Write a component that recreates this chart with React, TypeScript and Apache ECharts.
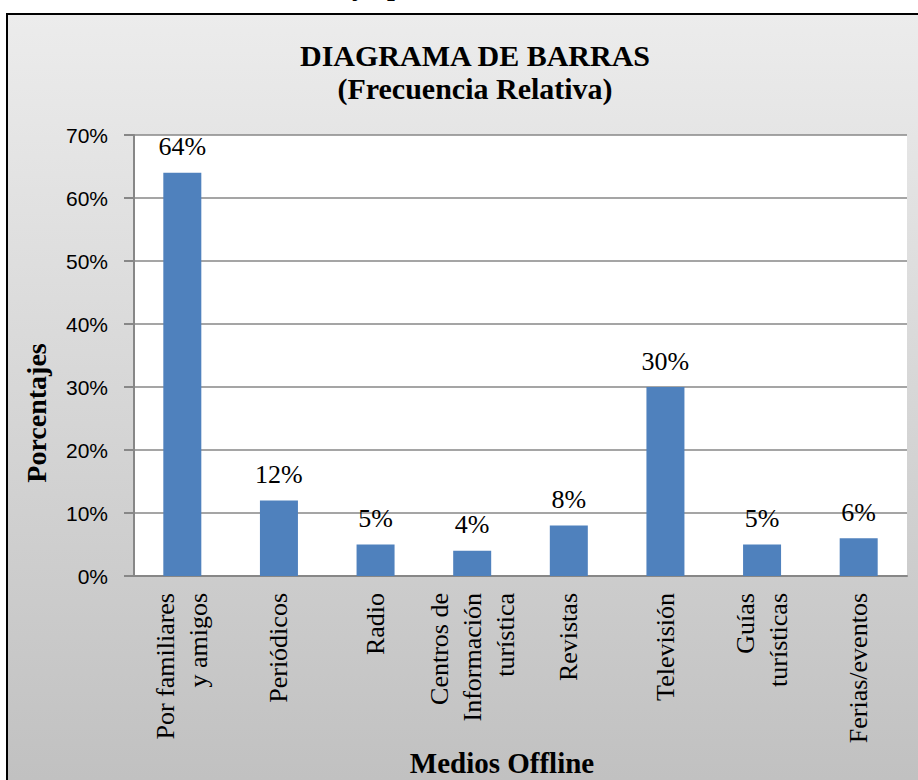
import React, { useEffect, useRef } from "react";
import * as echarts from "echarts";

const categories = [
  "Por familiares\ny amigos",
  "Periódicos",
  "Radio",
  "Centros de\nInformación\nturística",
  "Revistas",
  "Televisión",
  "Guías\nturísticas",
  "Ferias/eventos",
];
const values = [0.64, 0.12, 0.05, 0.04, 0.08, 0.3, 0.05, 0.06];
const titleText = "DIAGRAMA DE BARRAS\n(Frecuencia Relativa)";
const xAxisName = "Medios Offline";
const yAxisName = "Porcentajes";

export default function App() {
  const ref = useRef<HTMLDivElement>(null);
  useEffect(() => {
    document.body.style.margin = "0";
    const chart = echarts.init(ref.current!, null, { renderer: "svg" });
    const serif = "'Liberation Serif', 'Times New Roman', serif";
    chart.setOption({
      animation: false,
      graphic: [
        {
          type: "rect",
          z: -10,
          shape: { x: 7, y: 14, width: 1000, height: 900 },
          style: {
            fill: new echarts.graphic.LinearGradient(0, 0, 0, 1, [
              { offset: 0, color: "#ECECEC" },
              { offset: 0.85, color: "#C1C1C1" },
              { offset: 1, color: "#BDBDBD" },
            ]),
            stroke: "#000",
            lineWidth: 2,
          },
        },
        {
          type: "text",
          x: 352,
          y: -1,
          style: {
            text: "y ap",
            font: "bold 28px " + serif,
            fill: "#000",
            verticalAlign: "bottom",
          },
        },
        {
          type: "text",
          x: 502,
          y: 777,
          style: {
            text: xAxisName,
            font: "bold 29px " + serif,
            fill: "#000",
            align: "center",
            verticalAlign: "bottom",
          },
        },
        {
          type: "text",
          x: 36,
          y: 413,
          rotation: Math.PI / 2,
          style: {
            text: yAxisName,
            font: "bold 28px " + serif,
            fill: "#000",
            align: "center",
            verticalAlign: "middle",
          },
        },
      ],
      title: {
        text: titleText,
        left: 470,
        top: 34,
        textAlign: "center",
        textStyle: {
          fontFamily: serif,
          fontWeight: "bold",
          fontSize: 30,
          lineHeight: 33,
          color: "#000",
        },
      },
      grid: {
        left: 134,
        right: 11,
        top: 135,
        bottom: 204,
        show: true,
        backgroundColor: "#fff",
        borderWidth: 0,
      },
      xAxis: {
        type: "category",
        data: categories,
        axisLine: { lineStyle: { color: "#878787", width: 2 } },
        axisTick: { show: false },
        axisLabel: {
          rotate: 90,
          interval: 0,
          margin: 17,
          fontFamily: serif,
          fontSize: 26,
          lineHeight: 33,
          color: "#000",
        },
      },
      yAxis: {
        type: "value",
        min: 0,
        max: 0.7,
        interval: 0.1,
        axisLine: { show: true, lineStyle: { color: "#878787", width: 2 } },
        axisTick: { show: true, length: 10, lineStyle: { color: "#878787", width: 2 } },
        splitLine: { lineStyle: { color: "#878787", width: 1.5 } },
        axisLabel: {
          margin: 26,
          fontFamily: "'Liberation Sans', Arial, sans-serif",
          fontSize: 21,
          color: "#000",
          formatter: (v: number) => Math.round(v * 100) + "%",
        },
      },
      series: [
        {
          type: "bar",
          data: values,
          barWidth: 38,
          itemStyle: { color: "#4F81BD" },
          label: {
            show: true,
            position: "top",
            distance: 13,
            fontFamily: serif,
            fontSize: 26,
            color: "#000",
            formatter: (p: any) => Math.round(p.value * 100) + "%",
          },
        },
      ],
    });
    return () => chart.dispose();
  }, []);
  return <div ref={ref} style={{ width: 918, height: 780 }} />;
}
